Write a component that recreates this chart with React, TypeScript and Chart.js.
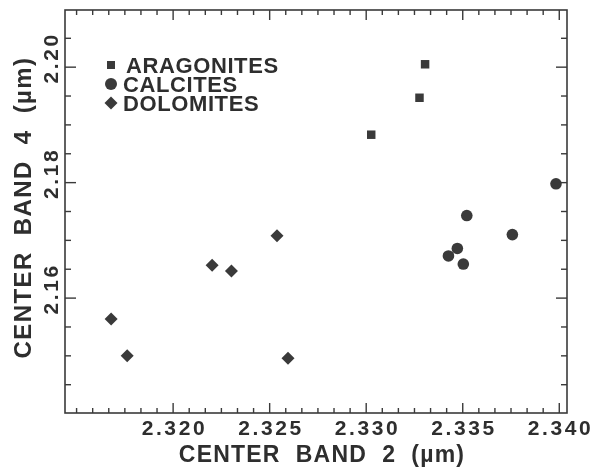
import React, { useEffect, useRef } from 'react';
import { Chart, registerables } from 'chart.js';
Chart.register(...registerables);

// ---- data ----
const aragoniteX = [2.33305, 2.33276, 2.33026];
const aragoniteY = [2.2005, 2.1947, 2.1883];
const calciteX = [2.33983, 2.33521, 2.33757, 2.33472, 2.33426, 2.33503];
const calciteY = [2.1798, 2.1743, 2.1710, 2.1686, 2.1673, 2.1659];
const dolomiteX = [2.31679, 2.31762, 2.32202, 2.32302, 2.32538, 2.32595];
const dolomiteY = [2.1564, 2.1500, 2.1657, 2.1647, 2.1708, 2.1496];

const seriesNames = ['ARAGONITES', 'CALCITES', 'DOLOMITES'];
const seriesStyles = ['rect', 'circle', 'rectRot'];
const xTickLabels = ['2.320', '2.325', '2.330', '2.335', '2.340'];
const yTickLabels = ['2.20', '2.18', '2.16'];
const xTitle = 'CENTER  BAND  2  (µm)';
const yTitle = 'CENTER  BAND  4  (µm)';
const xRange = [2.3144, 2.3404];
const yRange = [2.1401, 2.2099];
const xMinorFirst = 2.315;
const xMinorStep = 0.005 / 6;
const xMinorCount = 30;
const yMinorFirst = 2.145;
const yMinorStep = 0.005;
const yMinorCount = 12;

const INK = '#2e2e2e';
const MARK = '#3a3a3a';
const FONT = '"Liberation Sans", Arial, sans-serif';

const toPts = (xs: number[], ys: number[]) => xs.map((v, i) => ({ x: v, y: ys[i] }));

function drawMarker(ctx: CanvasRenderingContext2D, style: string, x: number, y: number) {
  ctx.beginPath();
  if (style === 'rect') {
    ctx.rect(x - 4, y - 4, 8, 8);
  } else if (style === 'circle') {
    ctx.arc(x, y, 6, 0, Math.PI * 2);
  } else {
    ctx.moveTo(x - 6.5, y);
    ctx.lineTo(x, y - 6.5);
    ctx.lineTo(x + 6.5, y);
    ctx.lineTo(x, y + 6.5);
    ctx.closePath();
  }
  ctx.fill();
}

function spaced(ctx: any, px: number) {
  try {
    ctx.letterSpacing = px + 'px';
  } catch (e) {
    /* ignore */
  }
}

const frameTicks = {
  id: 'frameTicks',
  beforeDatasetsDraw(chart: any) {
    const { ctx, chartArea: a, scales } = chart;
    const sx = scales.x;
    const sy = scales.y;
    ctx.save();
    ctx.strokeStyle = '#3a3a3a';
    ctx.lineWidth = 1.6;
    ctx.strokeRect(a.left, a.top, a.right - a.left, a.bottom - a.top);
    ctx.lineWidth = 1.4;
    const line = (x1: number, y1: number, x2: number, y2: number) => {
      ctx.beginPath();
      ctx.moveTo(x1, y1);
      ctx.lineTo(x2, y2);
      ctx.stroke();
    };
    const xMajors = xTickLabels.map((t) => parseFloat(t));
    for (let i = 0; i <= xMinorCount; i++) {
      const v = xMinorFirst + i * xMinorStep;
      const major = xMajors.some((m) => Math.abs(m - v) < 1e-6);
      const px = sx.getPixelForValue(v);
      if (px < a.left + 1 || px > a.right - 1) continue;
      const len = major ? 10 : 5;
      line(px, a.bottom, px, a.bottom - len);
      line(px, a.top, px, a.top + len);
    }
    const yMajors = yTickLabels.map((t) => parseFloat(t));
    for (let i = 0; i <= yMinorCount; i++) {
      const v = yMinorFirst + i * yMinorStep;
      const major = yMajors.some((m) => Math.abs(m - v) < 1e-6);
      const py = sy.getPixelForValue(v);
      if (py < a.top + 1 || py > a.bottom - 1) continue;
      const len = major ? 11 : 6;
      line(a.left, py, a.left + len, py);
      line(a.right, py, a.right - len, py);
    }
    ctx.restore();
  },
  afterDraw(chart: any) {
    const { ctx, chartArea: a, scales } = chart;
    const sx = scales.x;
    const sy = scales.y;
    ctx.save();
    ctx.fillStyle = INK;
    // x tick labels
    ctx.font = `bold 21px ${FONT}`;
    spaced(ctx, 2.6);
    ctx.textAlign = 'center';
    ctx.textBaseline = 'alphabetic';
    xTickLabels.forEach((t) => {
      ctx.fillText(t, sx.getPixelForValue(parseFloat(t)) + 1.3, a.bottom + 22);
    });
    // x title
    ctx.font = `bold 23px ${FONT}`;
    spaced(ctx, 1.2);
    ctx.fillText(xTitle, (a.left + a.right) / 2 + 6, a.bottom + 49);
    // y tick labels (rotated)
    ctx.font = `bold 21px ${FONT}`;
    spaced(ctx, 2.6);
    yTickLabels.forEach((t) => {
      const py = sy.getPixelForValue(parseFloat(t)) - 8;
      ctx.save();
      ctx.translate(a.left - 7, py);
      ctx.rotate(-Math.PI / 2);
      ctx.textAlign = 'center';
      ctx.fillText(t, 1.3, 0);
      ctx.restore();
    });
    // y title
    ctx.font = `bold 24px ${FONT}`;
    spaced(ctx, 1.4);
    ctx.save();
    ctx.translate(a.left - 34, (a.top + a.bottom) / 2 - 4);
    ctx.rotate(-Math.PI / 2);
    ctx.textAlign = 'center';
    ctx.fillText(yTitle, 0, 0);
    ctx.restore();
    // legend
    ctx.font = `bold 22px ${FONT}`;
    spaced(ctx, 0.6);
    ctx.textAlign = 'left';
    seriesNames.forEach((name, i) => {
      const base = a.top + 63 + i * 19;
      ctx.fillStyle = MARK;
      drawMarker(ctx, seriesStyles[i], a.left + 46, base - 8);
      ctx.fillStyle = INK;
      ctx.fillText(name, a.left + (i === 0 ? 61 : 58), base);
    });
    ctx.restore();
  },
};

export default function App() {
  const ref = useRef<HTMLCanvasElement | null>(null);
  useEffect(() => {
    if (!ref.current) return;
    const mk = (label: string, xs: number[], ys: number[], style: string, r: number) => ({
      label,
      data: toPts(xs, ys),
      pointStyle: style,
      pointRadius: r,
      pointHoverRadius: r,
      backgroundColor: MARK,
      borderColor: MARK,
      borderWidth: 0,
    });
    const chart = new Chart(ref.current, {
      type: 'scatter',
      data: {
        datasets: [
          mk(seriesNames[0], aragoniteX, aragoniteY, 'rect', 6),
          mk(seriesNames[1], calciteX, calciteY, 'circle', 5.8),
          mk(seriesNames[2], dolomiteX, dolomiteY, 'rectRot', 6.5),
        ],
      },
      options: {
        responsive: false,
        animation: false,
        layout: { padding: { left: 65, top: 10, right: 30, bottom: 55 } },
        plugins: { legend: { display: false }, tooltip: { enabled: false } },
        scales: {
          x: { type: 'linear', display: false, min: xRange[0], max: xRange[1] },
          y: { type: 'linear', display: false, min: yRange[0], max: yRange[1] },
        },
      },
      plugins: [frameTicks],
    });
    return () => chart.destroy();
  }, []);
  return (
    <div style={{ position: 'fixed', left: 0, top: 0, width: 597, height: 468, background: '#fff' }}>
      <canvas ref={ref} width={597} height={468} />
    </div>
  );
}
